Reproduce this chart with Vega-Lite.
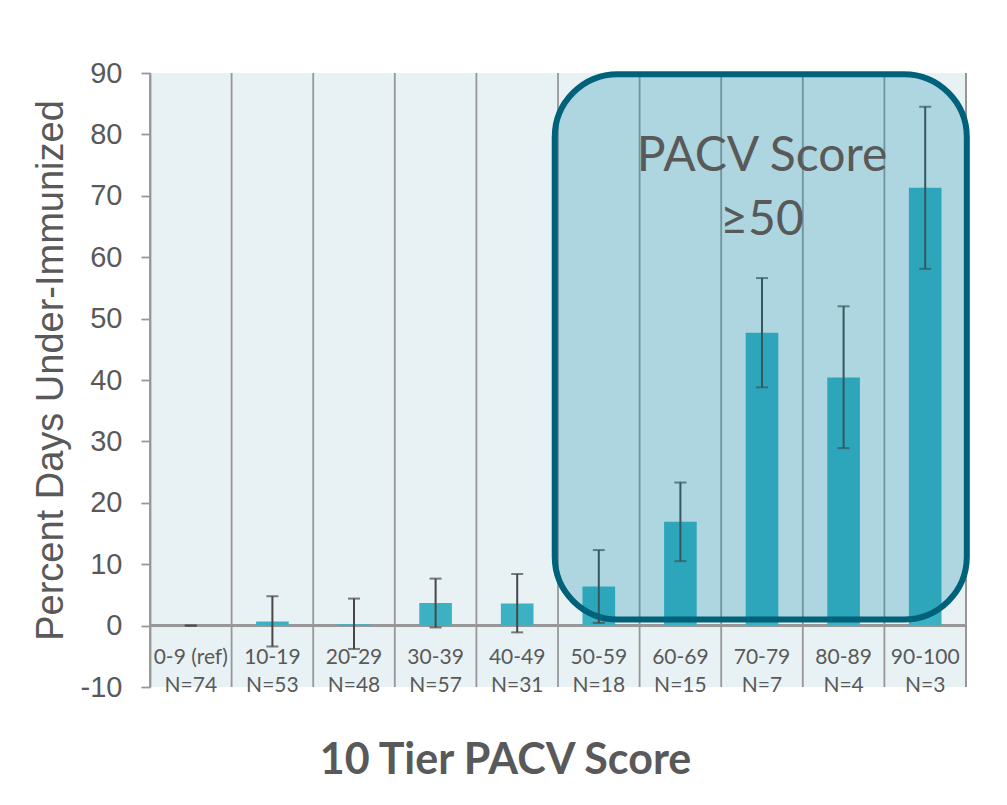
{
  "$schema": "https://vega.github.io/schema/vega-lite/v6.json",
  "width": 816,
  "height": 614,
  "autosize": "none",
  "padding": {"left": 150, "top": 73, "right": 41, "bottom": 118},
  "background": "white",
  "config": {
    "view": {"fill": "#e8f1f4", "stroke": null},
    "font": "Lato"
  },
  "datasets": {
    "tiers": [
      {"tier": "0-9 (ref)", "n": "N=74", "value": 0, "lo": 0, "hi": 0},
      {"tier": "10-19", "n": "N=53", "value": 0.65, "lo": -3.4, "hi": 4.8},
      {"tier": "20-29", "n": "N=48", "value": 0.2, "lo": -3.8, "hi": 4.4},
      {"tier": "30-39", "n": "N=57", "value": 3.7, "lo": -0.3, "hi": 7.65},
      {"tier": "40-49", "n": "N=31", "value": 3.6, "lo": -1.1, "hi": 8.4},
      {"tier": "50-59", "n": "N=18", "value": 6.35, "lo": 0.44, "hi": 12.3},
      {"tier": "60-69", "n": "N=15", "value": 16.9, "lo": 10.5, "hi": 23.3},
      {"tier": "70-79", "n": "N=7", "value": 47.7, "lo": 38.8, "hi": 56.6},
      {"tier": "80-89", "n": "N=4", "value": 40.4, "lo": 28.9, "hi": 52.0},
      {"tier": "90-100", "n": "N=3", "value": 71.3, "lo": 58.1, "hi": 84.5}
    ],
    "highlight": [
      {"label": "PACV Score ≥50"}
    ]
  },
  "layer": [
    {
      "data": {"name": "tiers"},
      "encoding": {
        "x": {
          "field": "tier",
          "type": "nominal",
          "sort": null,
          "scale": {"paddingInner": 0, "paddingOuter": 0},
          "axis": {
            "labels": false,
            "ticks": false,
            "domain": false,
            "grid": false,
            "title": "10 Tier PACV Score",
            "titleFont": "Lato",
            "titleFontSize": 43,
            "titleFontWeight": "bold",
            "titleColor": "#595959",
            "titleX": 355,
            "titleY": 73,
            "titleAlign": "center",
            "titleBaseline": "middle"
          }
        }
      },
      "layer": [
        {
          "mark": {"type": "rule", "color": "#979797", "strokeWidth": 1.8},
          "encoding": {
            "x": {"field": "tier", "type": "nominal", "sort": null, "bandPosition": 0}
          }
        },
        {
          "mark": {"type": "rule", "color": "#979797", "strokeWidth": 1.8},
          "encoding": {
            "x": {"datum": "90-100", "type": "nominal", "bandPosition": 1}
          }
        },
        {
          "mark": {"type": "rule", "color": "#979797", "strokeWidth": 2},
          "encoding": {
            "y": {"datum": 0, "type": "quantitative"},
            "x": {"value": 0},
            "x2": {"value": 816}
          }
        },
        {
          "mark": {"type": "bar", "color": "#3cb1c3", "width": {"band": 0.4}},
          "encoding": {
            "y": {
              "field": "value",
              "type": "quantitative",
              "scale": {"domain": [-10, 90], "nice": false, "zero": false},
              "axis": {
                "values": [-10, 0, 10, 20, 30, 40, 50, 60, 70, 80, 90],
                "labelExpr": "'' + datum.value",
                "grid": false,
                "domainColor": "#979797",
                "domainWidth": 1.8,
                "tickColor": "#979797",
                "tickWidth": 1.8,
                "tickSize": 9,
                "labelFont": "Liberation Sans",
                "labelFontSize": 29,
                "labelColor": "#595959",
                "labelPadding": 19,
                "title": "Percent Days Under-Immunized",
                "titleFont": "Liberation Sans",
                "titleFontSize": 38,
                "titleFontWeight": "normal",
                "titleColor": "#595959",
                "titleAngle": -90,
                "titleAlign": "center",
                "titleBaseline": "alphabetic",
                "titleX": -88,
                "titleY": 297
              }
            },
            "y2": {"datum": 0}
          }
        },
        {
          "mark": {"type": "rule", "color": "#474747", "strokeWidth": 2},
          "encoding": {
            "x": {"field": "tier", "type": "nominal", "sort": null, "bandPosition": 0.5},
            "y": {"field": "lo", "type": "quantitative"},
            "y2": {"field": "hi"}
          }
        },
        {
          "mark": {"type": "tick", "color": "#474747", "size": 12, "thickness": 2, "orient": "horizontal"},
          "encoding": {
            "x": {"field": "tier", "type": "nominal", "sort": null},
            "y": {"field": "lo", "type": "quantitative"}
          }
        },
        {
          "mark": {"type": "tick", "color": "#474747", "size": 12, "thickness": 2, "orient": "horizontal"},
          "encoding": {
            "x": {"field": "tier", "type": "nominal", "sort": null},
            "y": {"field": "hi", "type": "quantitative"}
          }
        },
        {
          "mark": {"type": "text", "font": "Lato", "fontSize": 21, "color": "#595959", "baseline": "middle", "align": "center"},
          "encoding": {
            "x": {"field": "tier", "type": "nominal", "sort": null, "bandPosition": 0.5},
            "y": {"datum": -5.2, "type": "quantitative"},
            "text": {"field": "tier"}
          }
        },
        {
          "mark": {"type": "text", "font": "Lato", "fontSize": 21, "color": "#595959", "baseline": "middle", "align": "center"},
          "encoding": {
            "x": {"field": "tier", "type": "nominal", "sort": null, "bandPosition": 0.5},
            "y": {"datum": -9.9, "type": "quantitative"},
            "text": {"field": "n"}
          }
        }
      ]
    },
    {
      "data": {"name": "highlight"},
      "layer": [
        {
          "mark": {
            "type": "rect",
            "cornerRadius": 63,
            "fill": "#0089a3",
            "fillOpacity": 0.25,
            "stroke": "#00617a",
            "strokeWidth": 6
          },
          "encoding": {
            "x": {"datum": 4.96, "type": "quantitative", "scale": {"domain": [0, 10], "nice": false, "zero": false}, "axis": null},
            "x2": {"datum": 10.01},
            "y": {"datum": 89.8, "type": "quantitative"},
            "y2": {"datum": 0.98}
          }
        },
        {
          "mark": {
            "type": "text",
            "text": ["PACV Score", "≥50"],
            "font": "Lato",
            "fontSize": 48,
            "lineHeight": 64,
            "color": "#595959",
            "align": "center",
            "baseline": "middle"
          },
          "encoding": {
            "x": {"datum": 7.5, "type": "quantitative"},
            "y": {"datum": 76.4, "type": "quantitative"}
          }
        }
      ]
    }
  ],
  "resolve": {"scale": {"x": "independent"}, "axis": {"x": "independent"}}
}
